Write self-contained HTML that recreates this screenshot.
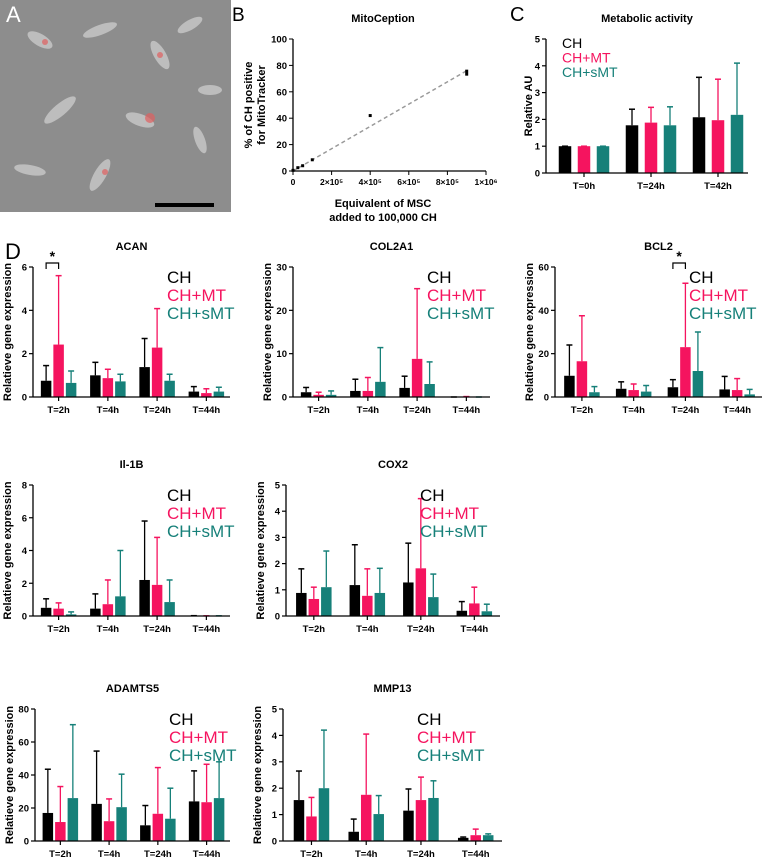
<!DOCTYPE html>
<html><head><meta charset="utf-8"><style>
body{margin:0;background:#fff}
svg{display:block;font-family:"Liberation Sans",Arial,sans-serif}
.t{font-weight:bold;font-size:11px}
.tk{font-weight:bold;font-size:9.5px}
</style></head><body>
<svg id="fig" width="765" height="859" viewBox="0 0 765 859" xmlns="http://www.w3.org/2000/svg">
<g>
<rect x="0" y="0" width="231" height="212" fill="#8d8d8d"/>
<g fill="#c9c9c9" opacity="0.8">
<ellipse cx="40" cy="40" rx="14" ry="6" transform="rotate(30 40 40)"/>
<ellipse cx="100" cy="30" rx="18" ry="5" transform="rotate(-20 100 30)"/>
<ellipse cx="160" cy="55" rx="16" ry="6" transform="rotate(60 160 55)"/>
<ellipse cx="60" cy="110" rx="20" ry="6" transform="rotate(-40 60 110)"/>
<ellipse cx="140" cy="120" rx="15" ry="6" transform="rotate(20 140 120)"/>
<ellipse cx="200" cy="140" rx="14" ry="5" transform="rotate(70 200 140)"/>
<ellipse cx="30" cy="170" rx="16" ry="5" transform="rotate(10 30 170)"/>
<ellipse cx="100" cy="175" rx="18" ry="6" transform="rotate(-60 100 175)"/>
<ellipse cx="190" cy="25" rx="14" ry="5" transform="rotate(-30 190 25)"/>
<ellipse cx="210" cy="90" rx="12" ry="5"/>
</g>
<g fill="#e06060" opacity="0.7">
<circle cx="150" cy="118" r="5"/><circle cx="45" cy="42" r="3"/><circle cx="105" cy="172" r="3"/><circle cx="160" cy="55" r="3"/>
</g>
<text x="6" y="22" font-size="22" fill="#fff">A</text>
<rect x="155" y="203" width="59" height="4" fill="#000"/>
</g>
<text x="5" y="259" font-size="22">D</text>
<text x="232" y="21" font-size="19">B</text>
<text x="510" y="21" font-size="20">C</text>
</svg>
<script>
// Panel B data
const mitoX = [0, 25000, 50000, 100000, 400000, 900000];
const mitoY = [0.5, 2.5, 4, 8.5, 42, 74.5];
const mitoXTicks = [0, 200000, 400000, 600000, 800000, 1000000];
const mitoXTickLabels = ["0","2×10\u2075","4×10\u2075","6×10\u2075","8×10\u2075","1×10\u2076"];
const mitoYTicks = [0, 20, 40, 60, 80, 100];
const fitLine = [0, 76];
// Panel C data
const metaCats = ["T=0h","T=24h","T=42h"];
const metaCH = [1, 1.78, 2.08];
const metaCHerr = [1, 2.38, 3.57];
const metaMT = [1, 1.88, 1.97];
const metaMTerr = [1, 2.45, 3.5];
const metaSMT = [1, 1.78, 2.17];
const metaSMTerr = [1, 2.47, 4.1];
const metaTicks = [0,1,2,3,4,5];
// Panel D data
const geneCats = ["T=2h","T=4h","T=24h","T=44h"];
const acanCH=[0.75,1.0,1.38,0.25], acanCHe=[1.45,1.6,2.7,0.48];
const acanMT=[2.42,0.87,2.28,0.18], acanMTe=[5.6,1.28,4.08,0.38];
const acanSMT=[0.65,0.72,0.75,0.25], acanSMTe=[1.2,1.05,1.05,0.45];
const colCH=[1.1,1.4,2.1,0], colCHe=[2.2,4.1,4.8,0];
const colMT=[0.5,1.4,8.8,0.05], colMTe=[1.1,4.5,25,0.1];
const colSMT=[0.5,3.5,3.0,0], colSMTe=[1.4,11.4,8.1,0];
const bclCH=[9.8,3.8,4.5,3.5], bclCHe=[24,7,8,9.5];
const bclMT=[16.5,3.2,23,3.2], bclMTe=[37.5,6,52.5,8.5];
const bclSMT=[2.2,2.5,12,1.2], bclSMTe=[4.8,5.3,30,3.5];
const ilCH=[0.5,0.45,2.2,0.02], ilCHe=[1.05,1.35,5.8,0.02];
const ilMT=[0.45,0.72,1.9,0.01], ilMTe=[0.8,2.2,4.8,0.01];
const ilSMT=[0.1,1.2,0.85,0.01], ilSMTe=[0.25,4.0,2.2,0.01];
const coxCH=[0.88,1.18,1.28,0.2], coxCHe=[1.8,2.72,2.78,0.55];
const coxMT=[0.65,0.77,1.82,0.48], coxMTe=[1.1,1.8,4.48,1.1];
const coxSMT=[1.1,0.88,0.72,0.18], coxSMTe=[2.48,1.82,1.6,0.45];
const adaCH=[17,22.5,9.5,24], adaCHe=[43.5,54.5,21.5,42.5];
const adaMT=[11.5,12,16.5,23.5], adaMTe=[33,25.5,44.5,46.5];
const adaSMT=[26,20.5,13.5,26], adaSMTe=[70.5,40.5,32,48];
const mmpCH=[1.55,0.35,1.15,0.12], mmpCHe=[2.65,0.83,1.97,0.15];
const mmpMT=[0.93,1.75,1.55,0.22], mmpMTe=[1.65,4.05,2.42,0.45];
const mmpSMT=[2.0,1.02,1.63,0.22], mmpSMTe=[4.2,1.72,2.28,0.27];
const acanTicks=[0,2,4,6], colTicks=[0,10,20,30], bclTicks=[0,20,40,60],
      ilTicks=[0,2,4,6,8], coxTicks=[0,1,2,3,4,5], adaTicks=[0,20,40,60,80], mmpTicks=[0,1,2,3,4,5];

const COLORS=["#000000","#f5145f","#168079"];
const NS="http://www.w3.org/2000/svg";
const svg=document.getElementById('fig');
function mk(tag,attrs,parent,txt){const e=document.createElementNS(NS,tag);for(const k in attrs)e.setAttribute(k,attrs[k]);if(txt!==undefined)e.textContent=txt;(parent||svg).appendChild(e);return e;}

function barPanel(o){
  const g=mk('g',{});
  
  
  const ymax=o.ticks[o.ticks.length-1];
  const y=v=>o.y0-(v/ymax)*(o.y0-o.top);
  const cx=i=>o.c0+i*o.sp;
  const series=[[o.s[0],o.s[1]],[o.s[2],o.s[3]],[o.s[4],o.s[5]]];
  series.forEach((s,si)=>{
    o.cats.forEach((c,i)=>{
      const x=cx(i)+(si-1)*o.step-o.bw/2;
      const m=s[0][i], e=s[1][i];
      const xc=x+o.bw/2;
      const el=mk('line',{x1:xc,x2:xc,y1:y(m),y2:y(e),stroke:COLORS[si],'stroke-width':1.3},g);
      
      
      const cap=mk('line',{x1:xc-3,x2:xc+3,y1:y(e),y2:y(e),stroke:COLORS[si],'stroke-width':1.5},g);
      
      
      const r=mk('rect',{x:x,y:y(m),width:o.bw,height:Math.max(0,o.y0-y(m)),fill:COLORS[si]},g);
      
      
    });
  });
  mk('line',{x1:o.x0,x2:o.x0,y1:o.top,y2:o.y0,stroke:'#000','stroke-width':1.3},g);
  mk('line',{x1:o.x0,x2:o.xend,y1:o.y0,y2:o.y0,stroke:'#000','stroke-width':1.3},g);
  o.ticks.forEach(t=>{
    mk('line',{x1:o.x0-4,x2:o.x0,y1:y(t),y2:y(t),stroke:'#000','stroke-width':1.2},g);
    const tl=mk('text',{x:o.x0-6,y:y(t)+3.5,'text-anchor':'end',class:'tk'},g,String(t));
    
    
  });
  o.cats.forEach((c,i)=>{
    mk('line',{x1:cx(i),x2:cx(i),y1:o.y0,y2:o.y0+4,stroke:'#000','stroke-width':1.2},g);
    const tl=mk('text',{x:cx(i),y:o.y0+16,'text-anchor':'middle',class:'tk'},g,c);
    
    
  });
  const ti=mk('text',{x:(o.x0+o.xend)/2,y:o.top-17,'text-anchor':'middle',class:'t'},g,o.title);
  
  
  const ym=(o.top+o.y0)/2;
  const yt=mk('text',{x:o.ytx,y:ym,'text-anchor':'middle',class:'t',transform:`rotate(-90 ${o.ytx} ${ym})`},g,o.ytitle);
  
  
  ["CH","CH+MT","CH+sMT"].forEach((l,k)=>{
    const le=mk('text',{x:o.lx,y:o.ly+k*o.lh,'font-size':o.lfs,fill:COLORS[k]},g,l);
    
    
  });
  if(o.sig!==undefined){
    const i=o.sig, xa=cx(i)-o.step, xb=cx(i), yb=o.top-4;
    const br=mk('path',{d:`M${xa} ${yb+6}V${yb}H${xb}V${yb+6}`,fill:'none',stroke:'#000','stroke-width':1.2},g);
    
    
    const st=mk('text',{x:(xa+xb)/2,y:yb-2,'text-anchor':'middle','font-size':14,'font-weight':'bold'},g,'*');
    
    
  }
}
function gene(name,title,x0,xend,top,y0,ticks,s,sig){
  const W=xend-x0;
  barPanel({name,title,x0,xend,top,y0,ticks,s,sig,cats:geneCats,c0:x0+W*0.13,sp:W*0.25,step:12.5,bw:10.5,
    ytitle:'Relatieve gene expression',ytx:x0-22,lx:x0+134,ly:top+16,lh:18,lfs:17});
}
gene('acan','ACAN',33,230,267,397,acanTicks,[acanCH,acanCHe,acanMT,acanMTe,acanSMT,acanSMTe],0);
gene('col2a1','COL2A1',293,490,267,397,colTicks,[colCH,colCHe,colMT,colMTe,colSMT,colSMTe]);
gene('bcl2','BCL2',555,762,267,397,bclTicks,[bclCH,bclCHe,bclMT,bclMTe,bclSMT,bclSMTe],2);
gene('il1b','Il-1B',33,230,485,616,ilTicks,[ilCH,ilCHe,ilMT,ilMTe,ilSMT,ilSMTe]);
gene('cox2','COX2',286,500,485,616,coxTicks,[coxCH,coxCHe,coxMT,coxMTe,coxSMT,coxSMTe]);
gene('adamts5','ADAMTS5',35,230,709,841,adaTicks,[adaCH,adaCHe,adaMT,adaMTe,adaSMT,adaSMTe]);
gene('mmp13','MMP13',283,502,709,841,mmpTicks,[mmpCH,mmpCHe,mmpMT,mmpMTe,mmpSMT,mmpSMTe]);

// Panel C
barPanel({name:'metabolic',title:'Metabolic activity',x0:546,xend:748,top:39,y0:173,ticks:metaTicks,
  s:[metaCH,metaCHerr,metaMT,metaMTerr,metaSMT,metaSMTerr],cats:metaCats,c0:584,sp:67,step:19,bw:12.5,
  ytitle:'Relative AU',ytx:532,lx:562,ly:48,lh:14.5,lfs:14});

// Panel B
(function(){
  const g=mk('g',{});
  
  
  const X0=293,XE=486,Y0=171,YT=39;
  const x=v=>X0+v/1000000*(XE-X0), y=v=>Y0-v/100*(Y0-YT);
  const ln=mk('line',{x1:x(0),y1:y(fitLine[0]),x2:x(900000),y2:y(fitLine[1]),stroke:'#999','stroke-width':1.5,'stroke-dasharray':'4 3'},g);
  
  
  mitoX.forEach((v,i)=>{
    const p=mk('rect',{x:x(v)-1.5,y:y(mitoY[i])-(i==5?3:1.5),width:3,height:i==5?6:3,fill:'#000'},g);
    
    
  });
  mk('line',{x1:X0,x2:X0,y1:YT,y2:Y0,stroke:'#000','stroke-width':1.3},g);
  mk('line',{x1:X0,x2:XE,y1:Y0,y2:Y0,stroke:'#000','stroke-width':1.3},g);
  mitoYTicks.forEach(t=>{
    mk('line',{x1:X0-4,x2:X0,y1:y(t),y2:y(t),stroke:'#000'},g);
    const tl=mk('text',{x:X0-6,y:y(t)+3.5,'text-anchor':'end',class:'tk'},g,String(t));
    
    
  });
  mitoXTicks.forEach((t,i)=>{
    mk('line',{x1:x(t),x2:x(t),y1:Y0,y2:Y0+4,stroke:'#000'},g);
    const tl=mk('text',{x:x(t),y:Y0+14,'text-anchor':'middle','font-size':8.5,'font-weight':'bold'},g,mitoXTickLabels[i]);
    
    
  });
  const ti=mk('text',{x:383,y:22,'text-anchor':'middle',class:'t'},g,'MitoCeption');
  
  
  const xt=mk('text',{x:383,y:207,'text-anchor':'middle',class:'t'},g,'Equivalent of MSC');
  
  
  const xt2=mk('text',{x:383,y:221,'text-anchor':'middle',class:'t'},g,'added to 100,000 CH');
  
  
  const yt=mk('text',{x:252,y:105,'text-anchor':'middle',class:'t',transform:'rotate(-90 252 105)'},g,'% of CH positive');
  
  
  const yt2=mk('text',{x:265,y:105,'text-anchor':'middle',class:'t',transform:'rotate(-90 265 105)'},g,'for MitoTracker');
  
  
})();
</script>
</body></html>
